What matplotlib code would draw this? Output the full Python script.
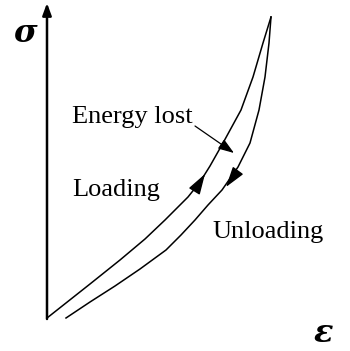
import matplotlib.pyplot as plt

# curve points (pixel-like coordinates, y downward)
load_x = [47, 90, 120, 145, 165, 188, 200, 210, 223, 241, 253, 263, 271]
load_y = [318, 284, 260, 239, 220, 197, 182, 166, 143, 110, 77, 43, 17]
unload_x = [271, 269, 265, 259, 250, 238, 222, 208, 195, 181, 166, 140, 115, 90, 66]
unload_y = [17, 43, 77, 110, 143, 167, 190, 205, 220, 235, 250, 269, 286, 302, 318]

fig = plt.figure(figsize=(3.5, 3.51), dpi=100)
ax = fig.add_axes([0, 0, 1, 1])
ax.set_xlim(0, 350)
ax.set_ylim(351, 0)
ax.axis('off')

# axes with arrows
ax.annotate('', xy=(47, 3), xytext=(47, 319),
            arrowprops=dict(arrowstyle='-|>,head_length=0.6,head_width=0.22', lw=1.8, color='black',
                            mutation_scale=12, shrinkA=0, shrinkB=0))
ax.annotate('', xy=(351, 318), xytext=(46, 318),
            arrowprops=dict(arrowstyle='-|>,head_length=0.6,head_width=0.22', lw=1.8, color='black',
                            mutation_scale=12, shrinkA=0, shrinkB=0))

ax.plot(load_x, load_y, color='black', lw=1.1, solid_joinstyle='round')
ax.plot(unload_x, unload_y, color='black', lw=1.1, solid_joinstyle='round')

# direction arrows on curves
ax.annotate('', xy=(205, 174), xytext=(197, 187),
            arrowprops=dict(arrowstyle='-|>,head_length=0.9,head_width=0.28', lw=1.0, color='black',
                            mutation_scale=14, shrinkA=0, shrinkB=0))
ax.annotate('', xy=(226, 187), xytext=(234, 176),
            arrowprops=dict(arrowstyle='-|>,head_length=0.9,head_width=0.28', lw=1.0, color='black',
                            mutation_scale=14, shrinkA=0, shrinkB=0))
# energy lost pointer
ax.annotate('', xy=(234, 153), xytext=(195, 126),
            arrowprops=dict(arrowstyle='-|>,head_length=0.8,head_width=0.28', lw=0.9, color='black',
                            mutation_scale=12, shrinkA=0, shrinkB=0))

serif = ['Liberation Serif', 'DejaVu Serif']
ax.text(72, 123, 'Energy lost', fontsize=19, family=serif, va='baseline', ha='left')
ax.text(72, 196, 'Loading', fontsize=19, family=serif, va='baseline', ha='left')
ax.text(212, 238, 'Unloading', fontsize=19, family=serif, va='baseline', ha='left')
ax.text(25, 33, 'σ', fontsize=23, family=['DejaVu Serif'], fontweight='bold', fontstyle='italic',
        va='center', ha='center')
ax.text(323, 333, 'ε', fontsize=23, family=['DejaVu Serif'], fontweight='bold', fontstyle='italic',
        va='center', ha='center')

fig.savefig('out.png', dpi=100)
